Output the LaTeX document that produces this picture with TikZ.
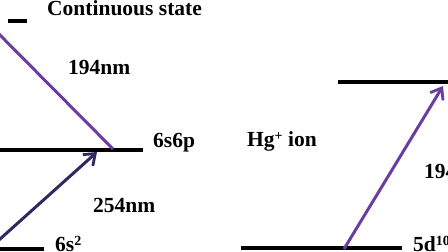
\documentclass[tikz,border=0pt]{standalone}
\usepackage{fontspec}
\setmainfont{Liberation Serif}
\usetikzlibrary{arrows.meta}
\definecolor{uvpurple}{RGB}{106,62,160}
\definecolor{uvnavy}{RGB}{44,42,94}
\newcommand{\supr}[1]{\raisebox{0.55ex}{\fontsize{14}{16}\selectfont #1}}
\begin{document}
\begin{tikzpicture}[x=1pt,y=-1pt,
  level/.style={line width=4pt},
  lbl/.style={anchor=base west,inner sep=0pt,font=\fontsize{21.5}{25}\selectfont\bfseries},
  trans/.style={line width=3pt,-{Straight Barb[length=10pt,width=15pt,line width=2.8pt]}},
  ray/.style={line width=3pt}]
\useasboundingbox (0,0) rectangle (448,252);
\clip (0,0) rectangle (448,252);
% levels (left)
\coordinate (dashL) at (8,20.5); \coordinate (dashR) at (27,20.5);
\coordinate (pL) at (-10,150); \coordinate (pR) at (143,150);
\coordinate (gL) at (-10,249); \coordinate (gR) at (44,249);
\draw[level] (dashL) -- (dashR);
\draw[level] (pL) -- (pR);
\draw[level] (gL) -- (gR);
% levels (right)
\coordinate (uL) at (338,82); \coordinate (uR) at (460,82);
\coordinate (dL) at (241,248); \coordinate (dR) at (402,248);
\draw[level] (uL) -- (uR);
\draw[level] (dL) -- (dR);
% transitions
\coordinate (rayS) at (-10,25); \coordinate (rayE) at (113,149);
\draw[ray,uvpurple] (rayS) -- (rayE);
\coordinate (navS) at (-10,248); \coordinate (navE) at (97,152);
\draw[trans,uvnavy] (navS) -- (navE);
\coordinate (hgS) at (344,249); \coordinate (hgE) at (443,86);
\draw[trans,uvpurple] (hgS) -- (hgE);
% labels
\node[lbl] (cont) at (47,15) {Continuous state};
\node[lbl] (l194a) at (68,74) {194nm};
\node[lbl] (l6s6p) at (153,147) {6s6p};
\node[lbl] (l254) at (93,212) {254nm};
\node[lbl] (l6s2) at (55,251) {6s\supr{2}};
\node[lbl] (hg) at (247,146) {Hg\supr{+} ion};
\node[lbl] (l194b) at (424,178) {194nm};
\node[lbl] (l5d) at (413,251) {5d\supr{10}};
\end{tikzpicture}
\end{document}
